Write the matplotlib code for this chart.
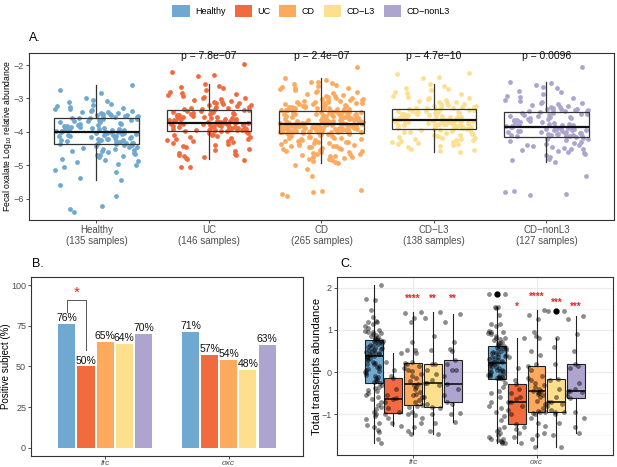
import numpy as np
import matplotlib
matplotlib.use("Agg")
import matplotlib.pyplot as plt
from matplotlib.patches import Patch

plt.rcParams['font.family'] = ['Liberation Sans', 'DejaVu Sans']
plt.rcParams['mathtext.default'] = 'regular'

groups = ["Healthy", "UC", "CD", "CD\u2212L3", "CD\u2212nonL3"]
colors = ["#6FA8D0", "#F26B3F", "#FDAA5E", "#FEDF8E", "#ADA5D0"]
n_samples = [135, 146, 265, 138, 127]
pvals = [None, "7.8e\u221207", "2.4e\u221207", "4.7e\u221210", "0.0096"]

# ---- panel A: fecal oxalate log10 abundance
a_healthy = [
    -2.60, -2.75, -2.85, -2.98, -3.05, -3.08, -3.12, -3.18, -3.20, -3.22, -3.25, -3.28, -3.30, -3.32,
    -3.35, -3.36, -3.38, -3.40, -3.41, -3.42, -3.44, -3.45, -3.46, -3.48, -3.49, -3.50, -3.52, -3.53,
    -3.54, -3.55, -3.56, -3.57, -3.58, -3.58,
    -3.60, -3.62, -3.63, -3.65, -3.66, -3.68, -3.70, -3.71, -3.73, -3.75, -3.76, -3.78, -3.80, -3.81,
    -3.83, -3.84, -3.85, -3.86, -3.88, -3.89, -3.90, -3.91, -3.92, -3.93, -3.94, -3.95, -3.96, -3.97,
    -3.98, -3.98, -3.99, -3.99, -4.00,
    -4.00, -4.01, -4.02, -4.03, -4.04, -4.05, -4.06, -4.08, -4.09, -4.10, -4.11, -4.12, -4.13, -4.15,
    -4.16, -4.17, -4.18, -4.20, -4.21, -4.22, -4.23, -4.24, -4.25, -4.26, -4.27, -4.28, -4.30, -4.31,
    -4.32, -4.33, -4.34, -4.35, -4.36, -4.37,
    -4.38, -4.40, -4.42, -4.45, -4.48, -4.50, -4.52, -4.55, -4.58, -4.60, -4.62, -4.65, -4.68, -4.70,
    -4.75, -4.80, -4.85, -4.88, -4.90, -4.95, -5.00, -5.05, -5.15, -5.20, -5.38, -5.43, -5.60, -5.90,
    -6.20, -6.30, -6.40, -4.44, -4.56, -4.72]
a_uc = [
    -1.97, -2.20, -2.30, -2.33, -2.58, -2.62, -2.65, -2.70, -2.75, -2.82, -2.85, -2.88, -2.90, -2.92,
    -2.95, -2.98, -3.00, -3.02, -3.05, -3.08, -3.10, -3.12, -3.14, -3.15, -3.17, -3.19, -3.20, -3.22,
    -3.24, -3.25, -3.27, -3.28, -3.30, -3.31, -3.32, -3.33,
    -3.35, -3.36, -3.37, -3.38, -3.40, -3.41, -3.42, -3.44, -3.45, -3.46, -3.47, -3.49, -3.50, -3.51,
    -3.52, -3.54, -3.55, -3.56, -3.57, -3.58, -3.59, -3.60, -3.61, -3.62, -3.63, -3.64, -3.65, -3.66,
    -3.67, -3.68, -3.68, -3.69, -3.70, -3.70, -3.71, -3.71, -3.72,
    -3.72, -3.73, -3.73, -3.74, -3.75, -3.75, -3.76, -3.77, -3.77, -3.78, -3.79, -3.80, -3.80, -3.81,
    -3.82, -3.83, -3.84, -3.84, -3.85, -3.86, -3.87, -3.87, -3.88, -3.89, -3.90, -3.90, -3.91, -3.92,
    -3.92, -3.93, -3.94, -3.94, -3.95, -3.95, -3.96, -3.96,
    -3.97, -3.98, -4.00, -4.02, -4.04, -4.06, -4.08, -4.10, -4.12, -4.14, -4.16, -4.18, -4.20, -4.22,
    -4.24, -4.26, -4.28, -4.30, -4.33, -4.36, -4.40, -4.43, -4.46, -4.50, -4.54, -4.58, -4.62, -4.65,
    -4.70, -4.72, -4.75, -4.78, -4.81, -4.70, -4.85, -5.05, -5.05]
a_cd = [
    -2.05, -2.40, -2.45, -2.50, -2.52, -2.55, -2.58, -2.60, -2.62, -2.65, -2.68, -2.70, -2.72, -2.75,
    -2.78, -2.80, -2.82, -2.85, -2.87, -2.90, -2.92, -2.94, -2.96, -2.98, -3.00, -3.01, -3.02, -3.04,
    -3.05, -3.06, -3.08, -3.09, -3.10, -3.11, -3.12, -3.13, -3.14, -3.15, -3.16, -3.17, -3.18, -3.19,
    -3.20, -3.21, -3.22, -3.23, -3.24, -3.25, -3.25, -3.26, -3.27, -3.28, -3.28, -3.29, -3.30, -3.30,
    -3.31, -3.32, -3.32, -3.33, -3.33, -3.34, -3.34, -3.35, -3.35, -3.36,
    -3.37, -3.38, -3.38, -3.39, -3.40, -3.40, -3.41, -3.42, -3.42, -3.43, -3.44, -3.45, -3.45, -3.46,
    -3.47, -3.47, -3.48, -3.49, -3.50, -3.50, -3.51, -3.52, -3.52, -3.53, -3.54, -3.55, -3.55, -3.56,
    -3.57, -3.57, -3.58, -3.59, -3.59, -3.60, -3.61, -3.61, -3.62, -3.63, -3.63, -3.64, -3.65, -3.65,
    -3.66, -3.66, -3.67, -3.68, -3.68, -3.69, -3.69, -3.70, -3.70, -3.71, -3.71, -3.72, -3.72, -3.73,
    -3.73, -3.74, -3.74, -3.74, -3.75, -3.75, -3.75, -3.76, -3.76, -3.76,
    -3.77, -3.77, -3.78, -3.78, -3.79, -3.79, -3.80, -3.80, -3.81, -3.81, -3.82, -3.82, -3.83, -3.83,
    -3.84, -3.84, -3.85, -3.85, -3.86, -3.86, -3.87, -3.87, -3.88, -3.88, -3.89, -3.89, -3.90, -3.90,
    -3.91, -3.91, -3.92, -3.92, -3.93, -3.93, -3.94, -3.94, -3.95, -3.95, -3.96, -3.96, -3.97, -3.97,
    -3.98, -3.98, -3.99, -3.99, -4.00, -4.00, -4.00, -4.01, -4.01, -4.01, -4.02, -4.02, -4.02, -3.78,
    -3.83, -3.86, -3.91, -3.94, -3.97, -4.00, -3.80, -3.88, -3.95, -3.99,
    -4.03, -4.05, -4.07, -4.09, -4.11, -4.13, -4.15, -4.17, -4.19, -4.21, -4.23, -4.25, -4.27, -4.29,
    -4.31, -4.33, -4.35, -4.37, -4.39, -4.41, -4.43, -4.45, -4.47, -4.49, -4.51, -4.53, -4.55, -4.57,
    -4.59, -4.61, -4.63, -4.65, -4.67, -4.69, -4.71, -4.73, -4.75, -4.78, -4.81, -4.84, -4.87, -4.90,
    -4.92, -4.06, -4.10, -4.14, -4.18, -4.22, -4.26, -4.30, -4.34, -4.38, -4.42, -4.46, -4.50, -4.58,
    -4.66, -4.74, -4.82, -5.00, -5.10, -5.31, -5.73, -5.80, -5.85, -5.90, -5.75]
a_cdl3 = [
    -2.25, -2.28, -2.35, -2.40, -2.58, -2.62, -2.68, -2.72, -2.75, -2.80, -2.85, -2.88, -2.92, -2.95,
    -2.98, -3.00, -3.03, -3.05, -3.08, -3.10, -3.12, -3.14, -3.16, -3.18, -3.20, -3.21, -3.22, -3.24,
    -3.25, -3.26, -3.27, -3.28, -3.29, -3.30, -3.31,
    -3.33, -3.34, -3.35, -3.36, -3.37, -3.38, -3.39, -3.40, -3.41, -3.42, -3.43, -3.44, -3.45, -3.46,
    -3.47, -3.48, -3.49, -3.50, -3.51, -3.52, -3.53, -3.54, -3.55, -3.56, -3.57, -3.58, -3.59, -3.60,
    -3.61, -3.62, -3.62, -3.63, -3.64, -3.64,
    -3.65, -3.66, -3.66, -3.67, -3.68, -3.68, -3.69, -3.70, -3.70, -3.71, -3.72, -3.72, -3.73, -3.74,
    -3.74, -3.75, -3.76, -3.76, -3.77, -3.78, -3.79, -3.80, -3.80, -3.81, -3.82, -3.83, -3.84, -3.84,
    -3.85, -3.86, -3.87, -3.88, -3.88, -3.89, -3.90,
    -3.91, -3.93, -3.95, -3.97, -3.99, -4.01, -4.03, -4.05, -4.07, -4.09, -4.11, -4.13, -4.15, -4.17,
    -4.19, -4.21, -4.23, -4.25, -4.27, -4.29, -4.31, -4.33, -4.35, -4.37, -4.40, -4.43, -4.46, -4.50,
    -4.53, -4.56, -4.59, -4.00, -4.10, -4.20]
a_cdnonl3 = [
    -2.05, -2.52, -2.55, -2.60, -2.65, -2.70, -2.78, -2.82, -2.88, -2.92, -2.96, -3.00, -3.04, -3.08,
    -3.10, -3.13, -3.15, -3.18, -3.20, -3.22, -3.24, -3.26, -3.28, -3.30, -3.31, -3.32, -3.33, -3.34,
    -3.35, -3.36, -3.37, -3.38,
    -3.40, -3.42, -3.43, -3.45, -3.46, -3.48, -3.49, -3.51, -3.52, -3.54, -3.55, -3.57, -3.58, -3.60,
    -3.61, -3.63, -3.64, -3.66, -3.67, -3.69, -3.70, -3.72, -3.73, -3.75, -3.76, -3.78, -3.79, -3.80,
    -3.81, -3.82, -3.83, -3.84,
    -3.85, -3.86, -3.87, -3.88, -3.89, -3.90, -3.91, -3.92, -3.93, -3.94, -3.95, -3.96, -3.97, -3.98,
    -3.99, -4.00, -4.01, -4.02, -4.03, -4.04, -4.05, -4.06, -4.07, -4.08, -4.09, -4.10, -4.11, -4.11,
    -4.12, -4.12, -4.13, -4.13,
    -4.15, -4.18, -4.21, -4.24, -4.27, -4.30, -4.33, -4.36, -4.39, -4.42, -4.45, -4.48, -4.51, -4.55,
    -4.58, -4.62, -4.66, -4.70, -4.75, -4.80, -4.85, -4.91, -4.20, -4.40, -4.60, -5.31, -5.75, -5.80,
    -5.85, -5.88, -4.50]
a_points = [a_healthy, a_uc, a_cd, a_cdl3, a_cdnonl3]

# box statistics (whisker low, q1, median, q3, whisker high)
a_whislo = [-5.43, -4.81, -4.92, -4.59, -4.91]
a_q1 = [-4.37, -3.96, -4.02, -3.90, -4.14]
a_med = [-4.00, -3.72, -3.76, -3.65, -3.85]
a_q3 = [-3.58, -3.34, -3.36, -3.32, -3.39]
a_whishi = [-2.60, -2.58, -2.40, -2.58, -2.52]

# ---- panel B: positive subjects (%)
genes = ["frc", "oxc"]
pos_frc = [76, 50, 65, 64, 70]
pos_oxc = [71, 57, 54, 48, 63]

# ---- panel C: total transcripts abundance
c_frc = [
    [2.06, 1.73, 1.70, 1.48, 1.30, 1.22, 1.20, 1.18, 1.15, 1.10, 1.05, 1.00, 0.98, 0.96, 0.95, 0.93,
     0.90, 0.88, 0.85, 0.83, 0.80, 0.79, 0.78, 0.77, 0.75, 0.74, 0.73, 0.72, 0.70, 0.68, 0.66, 0.65,
     0.62, 0.60, 0.58, 0.56, 0.55, 0.53, 0.52, 0.50, 0.48, 0.46, 0.45, 0.43, 0.42, 0.40, 0.39, 0.38,
     0.36, 0.33, 0.30, 0.28, 0.25, 0.22, 0.20, 0.18, 0.15, 0.12, 0.10, 0.08, 0.05, 0.02, 0.00, -0.03,
     -0.06, -0.09, -0.12, -0.15, -0.18, -0.21, -0.24, -0.27, -0.30, -0.35, -0.38, -0.42, -0.46, -0.50,
     -0.55, -0.60, -0.65, -0.72, -0.78, -0.82, -0.88, -0.95, -1.00, -1.05, -1.12, -1.20, -1.25, -1.30,
     -1.38, -1.42, -1.60, -1.69],
    [0.46, 0.25, 0.05, -0.10, -0.15, -0.40, -0.55, -0.62, -0.64, -0.70, -0.85, -0.95, -1.00, -1.10,
     -1.20, -1.27],
    [1.43, 1.40, 1.28, 1.18, 0.72, 0.53, 0.53, 0.45, 0.25, 0.21, 0.20, 0.15, 0.10, 0.05, 0.02, -0.05,
     -0.10, -0.15, -0.22, -0.29, -0.30, -0.35, -0.40, -0.48, -0.52, -0.55, -0.60, -0.66, -0.72, -0.78,
     -0.80, -0.82, -0.95, -1.00, -1.02, -1.10, -1.20, -1.30, -1.40, -1.47],
    [1.43, 1.28, 0.85, 0.53, 0.20, 0.18, 0.05, -0.05, -0.20, -0.25, -0.25, -0.30, -0.60, -0.75, -0.84,
     -0.85, -1.00, -1.20, -1.40, -1.47],
    [1.39, 1.18, 0.72, 0.55, 0.50, 0.28, 0.20, 0.06, 0.06, -0.10, -0.29, -0.40, -0.55, -0.70, -0.75,
     -0.98, -1.00, -1.18],
]
c_oxc = [
    [1.85, 1.85, 1.55, 1.54, 1.53, 1.35, 1.15, 1.13, 1.10, 0.98, 0.96, 0.95, 0.92, 0.90, 0.85, 0.82,
     0.80, 0.78, 0.75, 0.72, 0.70, 0.68, 0.65, 0.63, 0.61, 0.60, 0.58, 0.56, 0.55, 0.53, 0.50, 0.48,
     0.46, 0.45, 0.43, 0.40, 0.38, 0.36, 0.35, 0.33, 0.30, 0.28, 0.27, 0.25, 0.24, 0.23, 0.22, 0.21,
     0.20, 0.18, 0.16, 0.14, 0.12, 0.10, 0.08, 0.06, 0.05, 0.03, 0.02, 0.00, -0.02, -0.04, -0.06,
     -0.08, -0.09, -0.10, -0.11, -0.12, -0.13, -0.14, -0.15, -0.17, -0.25, -0.35, -0.45, -0.50, -0.60,
     -0.70, -0.80, -0.85, -0.95, -1.05, -1.15, -1.30, -1.35, -1.40, -1.45, -1.50, -1.55, -1.58, -1.60,
     -1.62, -1.64, -1.66, -1.68, -1.69],
    [0.80, 0.35, 0.10, -0.18, -0.29, -0.40, -0.50, -0.60, -0.65, -0.70, -0.72, -0.80, -0.90, -1.00,
     -1.24, -1.30, -1.35, -1.45, -1.55, -1.69],
    [1.47, 1.35, 1.25, 0.95, 0.85, 0.80, 0.50, 0.40, 0.20, 0.15, 0.05, -0.10, -0.15, -0.20, -0.25,
     -0.30, -0.35, -0.40, -0.44, -0.46, -0.47, -0.50, -0.52, -0.55, -0.60, -0.68, -0.75, -0.85, -0.92,
     -0.96, -0.96, -0.98, -1.00, -1.10, -1.20, -1.28, -1.45, -1.50, -1.60, -1.77],
    [1.45, 1.45, 0.80, 0.60, 0.20, -0.16, -0.20, -0.40, -0.60, -0.70, -0.72, -0.75, -0.80, -0.90,
     -0.96, -0.96, -1.00, -1.20, -1.50, -1.79],
    [1.33, 1.25, 0.90, 0.50, 0.20, 0.15, 0.10, -0.25, -0.40, -0.46, -0.45, -0.48, -0.55, -0.62, -0.95,
     -1.10, -1.30, -1.44],
]
c_whislo = [[-1.69, -1.27, -1.47, -1.47, -1.18], [-1.69, -1.69, -1.77, -1.79, -1.44]]
c_q1 = [[-0.27, -0.98, -0.78, -0.84, -0.70], [-0.17, -1.24, -0.96, -0.96, -0.62]]
c_med = [[0.38, -0.64, -0.29, -0.25, -0.29], [0.21, -0.70, -0.46, -0.72, -0.46]]
c_q3 = [[0.76, -0.13, 0.21, 0.20, 0.28], [0.62, -0.29, 0.15, -0.16, 0.20]]
c_whishi = [[2.07, 0.46, 1.43, 1.43, 1.39], [1.54, 0.80, 1.47, 0.80, 1.33]]
c_fliers = [[[], [], [], [], []], [[1.85], [], [], [1.45], []]]
c_stars = [["", "", "****", "**", "**"], ["", "*", "****", "***", "***"]]
c_star_y = [[0, 0, 1.73, 1.73, 1.73], [0, 1.54, 1.79, 1.65, 1.54]]

GRAY = "#4D4D4D"


def jitter(n, half):
    # deterministic, irregular spread of the points around the group centre
    k = np.arange(n) + 1
    u = np.modf(np.abs(np.sin(k * 12.9898) * 43758.5453))[0]
    return (u - 0.5) * 2 * half


def style_axes(ax):
    for s in ax.spines.values():
        s.set_color("#333333")
        s.set_linewidth(0.8)
    ax.tick_params(colors="#333333", labelcolor=GRAY, labelsize=6.5, length=2, width=0.6, pad=1.5)


fig = plt.figure(figsize=(6.17, 4.67), dpi=100)

# ---------------- Panel A
axA = fig.add_axes([0.047, 0.529, 0.948, 0.3576])
for i, vals in enumerate(a_points):
    x = i + 1 + jitter(len(vals), 0.37)
    axA.scatter(x, vals, s=12, color=colors[i], linewidths=0, zorder=2)
statsA = [dict(whislo=a_whislo[i], q1=a_q1[i], med=a_med[i], q3=a_q3[i],
               whishi=a_whishi[i], fliers=[]) for i in range(5)]
axA.bxp(statsA, positions=range(1, 6), widths=0.75, showfliers=False, patch_artist=True,
        manage_ticks=False,
        boxprops=dict(facecolor="none", edgecolor="#333333", linewidth=0.9),
        whiskerprops=dict(color="#333333", linewidth=0.9),
        capprops=dict(linewidth=0),
        medianprops=dict(color="#111111", linewidth=1.6), zorder=3)
for i, p in enumerate(pvals):
    if p:
        axA.text(i + 1, -1.73, "p = " + p, ha="center", va="center", fontsize=7.5, color="#111111")
axA.set_xlim(0.4, 5.6)
axA.set_ylim(-6.63, -1.64)
axA.set_yticks([-6, -5, -4, -3, -2])
axA.set_yticklabels(["\u22126", "\u22125", "\u22124", "\u22123", "\u22122"])
axA.set_xticks(range(1, 6))
axA.set_xticklabels([f"{g}\n({n} samples)" for g, n in zip(groups, n_samples)])
axA.set_ylabel("Fecal oxalate Log$_{10}$ relative abundance", fontsize=6.2)
axA.yaxis.set_label_coords(-0.026, 0.5)
style_axes(axA)
axA.tick_params(axis="x", labelsize=7)
fig.text(29 / 617, 1 - 44 / 467, "A.", fontsize=9, va="bottom")

# ---------------- Panel B
axB = fig.add_axes([0.0502, 0.0236, 0.4408, 0.3833])
slot, bw = 0.155, 0.138
for gi, vals in enumerate([pos_frc, pos_oxc]):
    for i, v in enumerate(vals):
        x = gi + 1 + (i - 2) * slot
        axB.bar(x, v, width=bw, color=colors[i], edgecolor="none")
        axB.text(x, v + 0.6, f"{v}%", ha="center", va="bottom", fontsize=7.5, color="#111111")
# significance bracket Healthy vs UC (frc)
xh, xu = 1 - 2 * slot, 1 - slot
axB.plot([xh, xh, xu, xu], [83.5, 90.8, 90.8, 60.4], color="#555555", linewidth=0.7)
axB.text((xh + xu) / 2, 95.5, "*", ha="center", va="center", fontsize=11, color="#E8262A")
axB.set_xlim(0.4, 2.6)
axB.set_ylim(-5, 105)
axB.set_yticks([0, 25, 50, 75, 100])
axB.set_xticks([1, 2])
axB.set_xticklabels(genes, fontstyle="italic")
axB.set_ylabel("Positive subject (%)", fontsize=7)
axB.yaxis.set_label_coords(-0.074, 0.5)
style_axes(axB)
axB.tick_params(axis="x", labelsize=6, pad=1)
fig.text(32 / 617, 1 - 270 / 467, "B.", fontsize=9, va="bottom")

# ---------------- Panel C
axC = fig.add_axes([0.5457, 0.0257, 0.4478, 0.3805])
axC.set_axisbelow(True)
cslot, cw = 0.16, 0.145
for gi in range(2):
    pos = [gi + 1 + (i - 2) * cslot for i in range(5)]
    statsC = [dict(whislo=c_whislo[gi][i], q1=c_q1[gi][i], med=c_med[gi][i], q3=c_q3[gi][i],
                   whishi=c_whishi[gi][i], fliers=c_fliers[gi][i]) for i in range(5)]
    bp = axC.bxp(statsC, positions=pos, widths=cw, patch_artist=True, manage_ticks=False,
                 boxprops=dict(edgecolor="#222222", linewidth=0.8),
                 whiskerprops=dict(color="#222222", linewidth=0.8),
                 capprops=dict(linewidth=0),
                 medianprops=dict(color="#111111", linewidth=1.2),
                 flierprops=dict(marker="o", markerfacecolor="black", markeredgecolor="black",
                                 markersize=3.5),
                 zorder=2)
    for patch, c in zip(bp["boxes"], colors):
        patch.set_facecolor(c)
    data = c_frc if gi == 0 else c_oxc
    for i, vals in enumerate(data):
        x = pos[i] + jitter(len(vals), 0.072)
        axC.scatter(x, vals, s=12, color="black", alpha=0.45, linewidths=0, zorder=3)
        if c_stars[gi][i]:
            axC.text(pos[i], c_star_y[gi][i], c_stars[gi][i], ha="center", va="center",
                     fontsize=7, color="#E8262A", fontweight="bold")
axC.set_yticks([-1, 0, 1, 2])
axC.set_yticks([-1.5, -0.5, 0.5, 1.5], minor=True)
axC.set_xticks([1, 2])
axC.grid(True, which="major", color="#EBEBEB", linewidth=0.8)
axC.grid(True, which="minor", axis="y", color="#F3F3F3", linewidth=0.5)
axC.set_xlim(0.38, 2.62)
axC.set_ylim(-1.97, 2.25)
axC.set_yticklabels(["\u22121", "0", "1", "2"])
axC.set_xticklabels(genes, fontstyle="italic")
axC.set_ylabel("Total transcripts abundance", fontsize=8)
axC.yaxis.set_label_coords(-0.053, 0.5)
style_axes(axC)
axC.tick_params(axis="x", labelsize=6, pad=1)
axC.tick_params(which="minor", length=0)
fig.text(340 / 617, 1 - 270 / 467, "C.", fontsize=9, va="bottom")

# ---------------- shared legend
handles = [Patch(facecolor=c, edgecolor="none") for c in colors]
fig.legend(handles, groups, loc="center", bbox_to_anchor=(311 / 617, 1 - 11 / 467), ncol=5,
           frameon=False, fontsize=6.5, handlelength=1.9, handleheight=1.6, handletextpad=0.6,
           columnspacing=1.0, borderpad=0.1)

fig.savefig("out.png", dpi=100)
